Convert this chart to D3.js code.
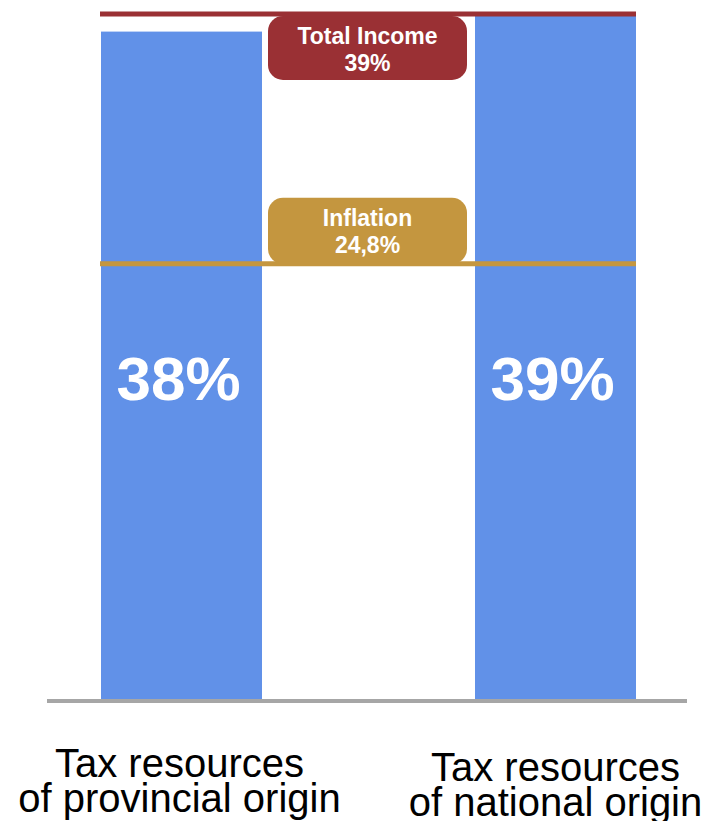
<!DOCTYPE html>
<html>
<head>
<meta charset="utf-8">
<script src="https://cdn.jsdelivr.net/npm/d3@7"></script>
<style>
  html, body { margin: 0; padding: 0; background: #ffffff; }
  svg { display: block; }
</style>
</head>
<body>
<svg id="chart" width="707" height="821"></svg>
<script>
// Growth of tax resources compared with total income and inflation
const categories = ["provincial", "national"];
const categoryLines = [
  ["Tax resources", "of provincial origin"],
  ["Tax resources", "of national origin"]
];
const growth = [38, 39];
const barLabels = ["38%", "39%"];

const referenceNames = ["Total Income", "Inflation"];
const referenceValues = [39, 24.8];
const referenceLabels = ["39%", "24,8%"];
const referenceColors = ["#9a3034", "#c4963f"];

const width = 707, height = 821;
const svg = d3.select("#chart");

const x = d3.scaleBand()
  .domain(categories)
  .range([101, 636])
  .paddingInner(0.5695)
  .paddingOuter(0);

const y = d3.scaleLinear()
  .domain([0, 39])
  .range([700, 14]);

// bars
svg.append("g")
  .selectAll("rect")
  .data(categories)
  .join("rect")
  .attr("x", d => x(d))
  .attr("y", (d, i) => y(growth[i]))
  .attr("width", x.bandwidth())
  .attr("height", (d, i) => y(0) - y(growth[i]))
  .attr("fill", "#6191e8");

// baseline
svg.append("line")
  .attr("x1", 47).attr("x2", 687)
  .attr("y1", y(0) + 1).attr("y2", y(0) + 1)
  .attr("stroke", "#a6a6a6")
  .attr("stroke-width", 4);

// value labels inside the bars
svg.append("g")
  .selectAll("text")
  .data(categories)
  .join("text")
  .attr("x", d => x(d) + x.bandwidth() / 2 - 3)
  .attr("y", 400)
  .attr("text-anchor", "middle")
  .attr("font-family", "'Liberation Sans', Arial, sans-serif")
  .attr("font-weight", "bold")
  .attr("font-size", 62)
  .attr("fill", "#ffffff")
  .text((d, i) => barLabels[i]);

// reference badges and lines
const gapCenter = (x(categories[0]) + x.bandwidth() + x(categories[1])) / 2 - 1;
const boxW = 199, boxH = 64;
referenceValues.forEach((v, i) => {
  const ly = y(v);
  const g = svg.append("g");
  // Total Income badge hangs below its line, Inflation badge sits on top of its line
  const top = i === 0 ? ly + 2 : ly - boxH - 2;
  g.append("rect")
    .attr("x", gapCenter - boxW / 2)
    .attr("y", top)
    .attr("width", boxW)
    .attr("height", boxH + (i === 0 ? 0 : 2))
    .attr("rx", 15).attr("ry", 15)
    .attr("fill", referenceColors[i]);
  const t = g.append("text")
    .attr("text-anchor", "middle")
    .attr("font-family", "'Liberation Sans', Arial, sans-serif")
    .attr("font-weight", "bold")
    .attr("font-size", 23)
    .attr("fill", "#ffffff");
  t.append("tspan").attr("x", gapCenter).attr("y", top + 28).text(referenceNames[i]);
  t.append("tspan").attr("x", gapCenter).attr("y", top + 55).text(referenceLabels[i]);
  g.append("line")
    .attr("x1", x.range()[0] - 1).attr("x2", x.range()[1])
    .attr("y1", ly).attr("y2", ly)
    .attr("stroke", referenceColors[i])
    .attr("stroke-width", 5);
});

// category labels
const cat = svg.append("g")
  .selectAll("text")
  .data(categories)
  .join("text")
  .attr("text-anchor", "middle")
  .attr("font-family", "'Liberation Sans', Arial, sans-serif")
  .attr("font-size", 40)
  .attr("fill", "#000000");
cat.each(function(d, i) {
  const cx = x(d) + x.bandwidth() / 2 - 2 + i * 2;
  categoryLines[i].forEach((line, j) => {
    d3.select(this).append("tspan")
      .attr("x", cx)
      .attr("y", 777 + i * 4 + j * 35)
      .text(line);
  });
});
</script>
</body>
</html>
